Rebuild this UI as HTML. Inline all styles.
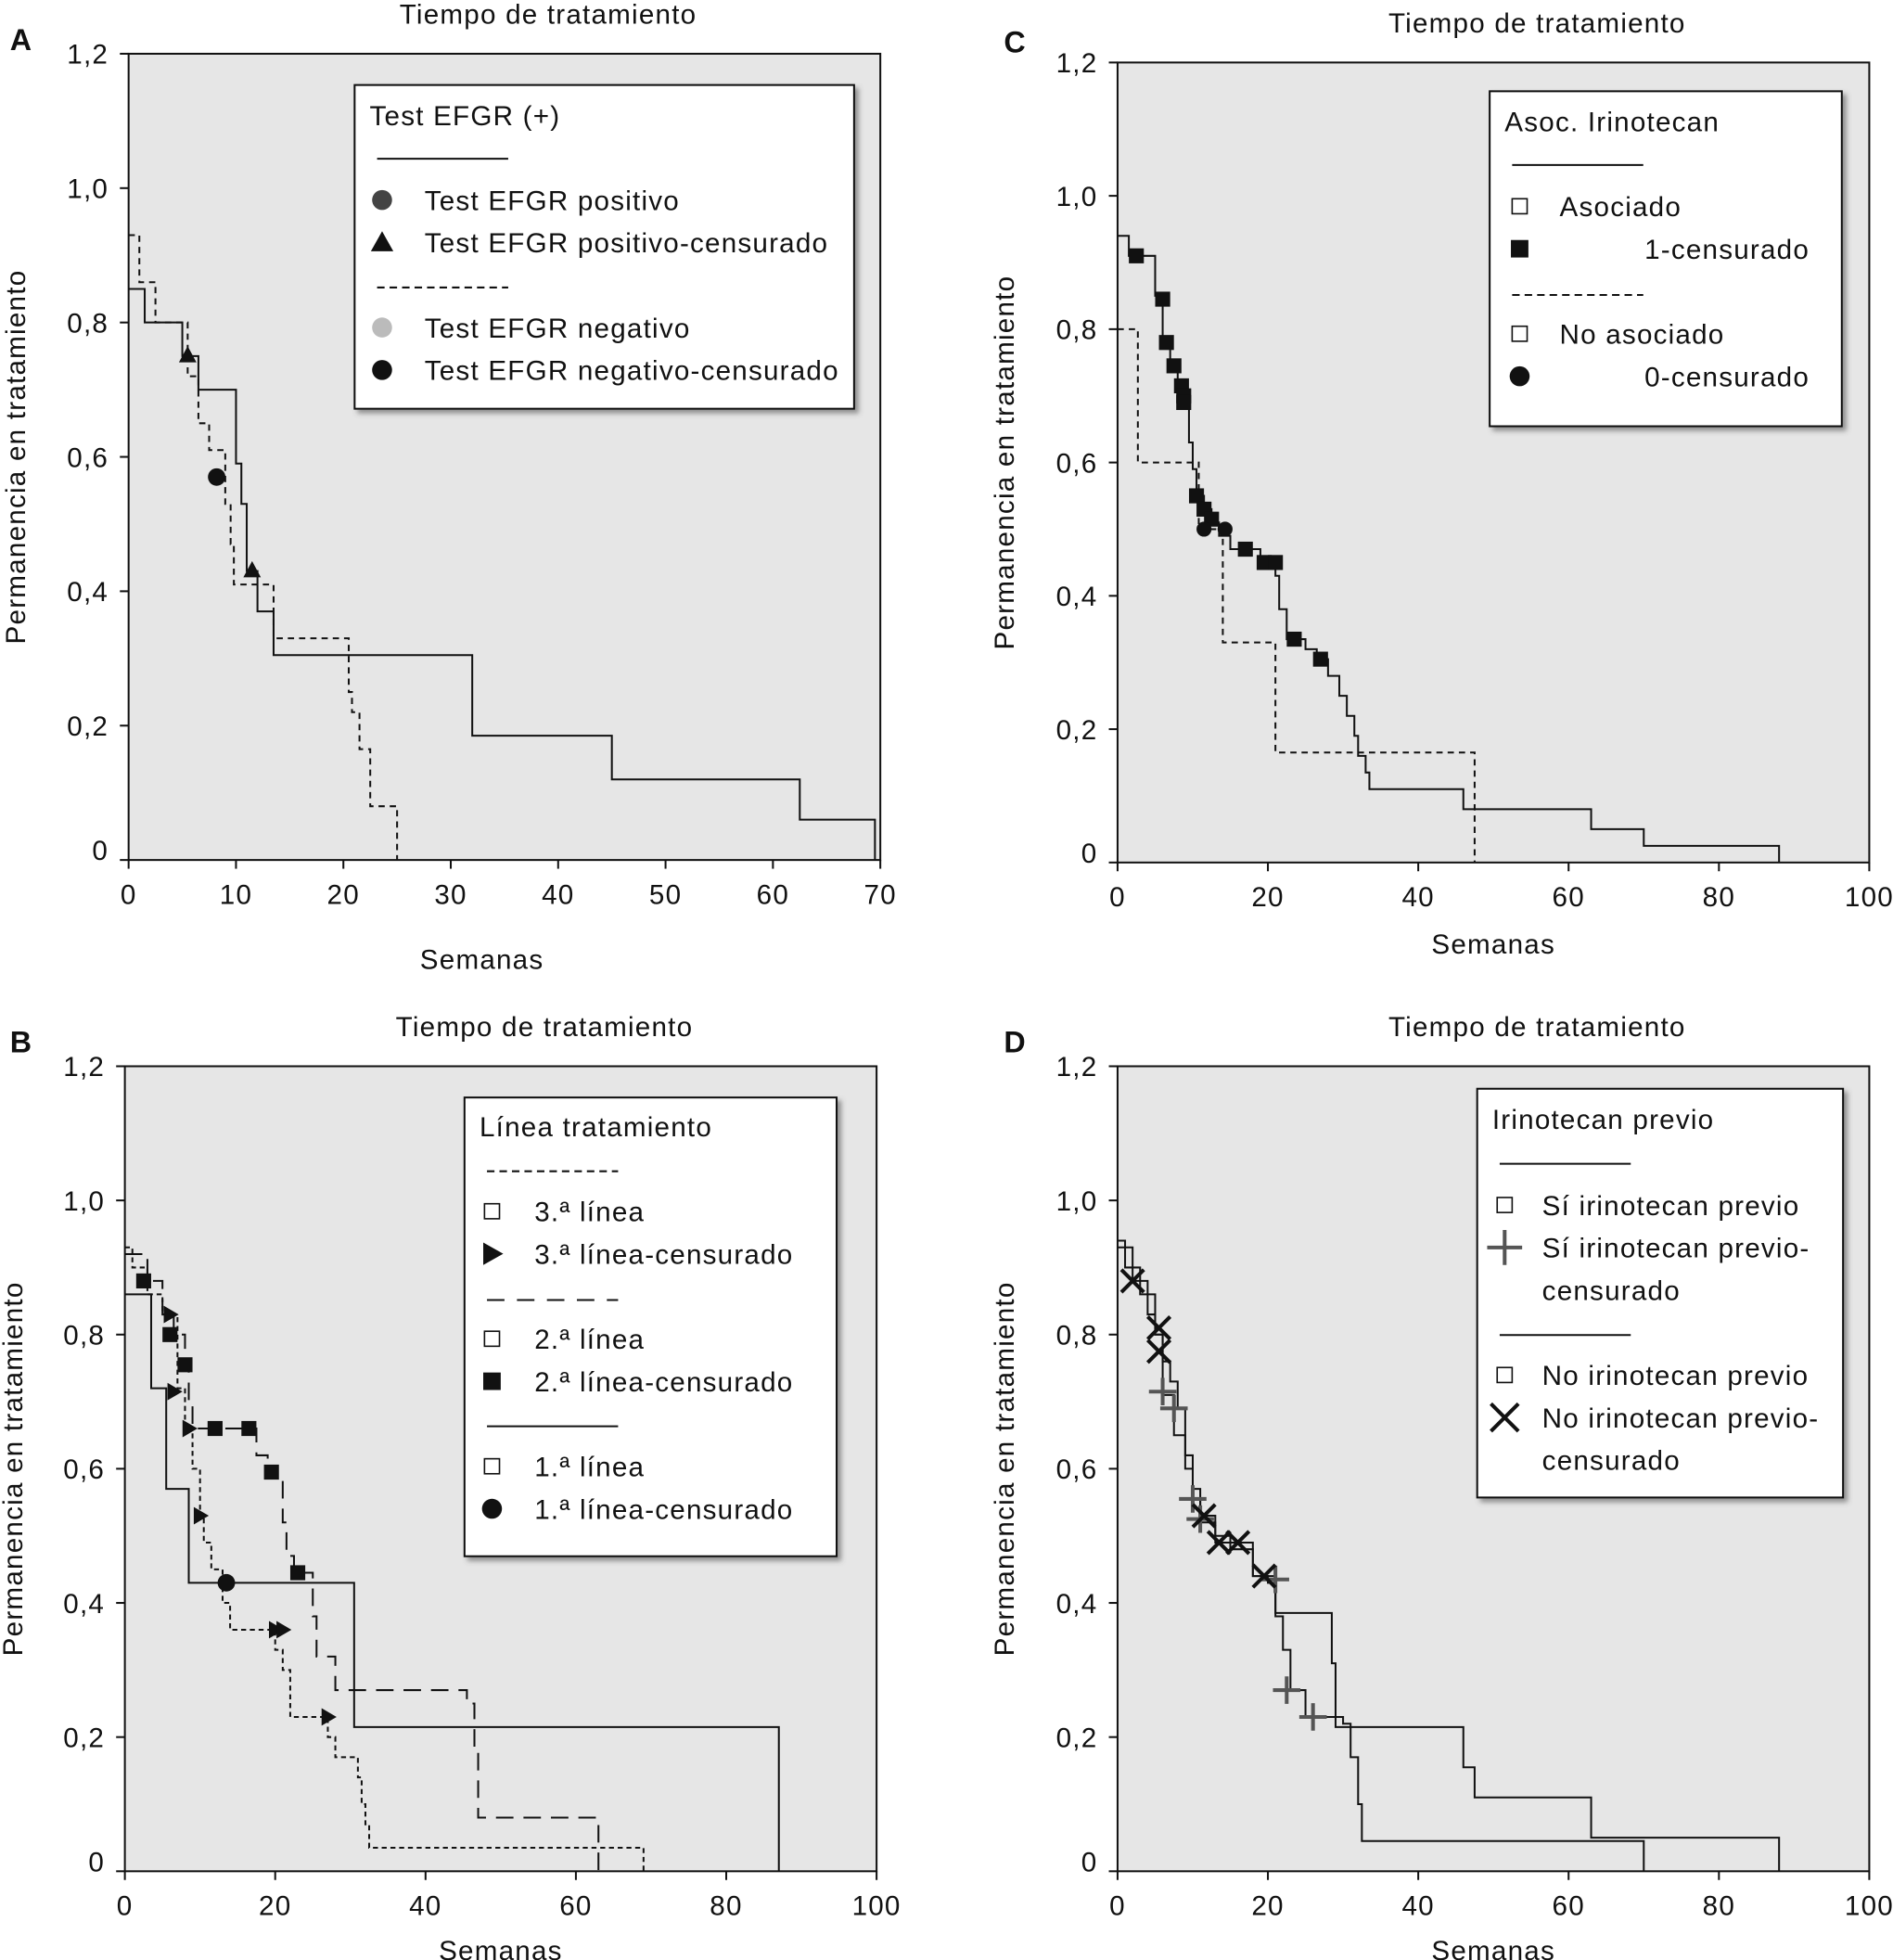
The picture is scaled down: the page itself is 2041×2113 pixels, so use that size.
<!DOCTYPE html>
<html><head><meta charset="utf-8"><style>
html,body{margin:0;padding:0;background:#fff;}
svg{display:block;font-family:"Liberation Sans","DejaVu Sans",sans-serif;letter-spacing:0.9px;}
</style></head><body>
<svg id="chart" width="2041" height="2113" viewBox="0 0 1516 1568" preserveAspectRatio="none" xmlns="http://www.w3.org/2000/svg">
<defs><filter id="sh" x="-5%" y="-5%" width="115%" height="115%"><feDropShadow dx="3" dy="3" stdDeviation="2" flood-color="#555" flood-opacity="0.6"/></filter></defs>
</svg>
<script>
// ---------- DATA ----------
const aXTicks=[0,10,20,30,40,50,60,70];
const bXTicks=[0,20,40,60,80,100];
const yTicks=[0,0.2,0.4,0.6,0.8,1.0,1.2];
const yTickLabels=["0","0,2","0,4","0,6","0,8","1,0","1,2"];
// Panel A
const aPosSteps=[[0,0.85],[1.5,0.80],[5,0.75],[6.5,0.70],[10,0.59],[10.5,0.53],[11,0.43],[12,0.37],[13.5,0.305],[32,0.185],[45,0.12],[62.5,0.06],[69.5,0]];
const aNegSteps=[[0,0.93],[1,0.86],[2.5,0.80],[5.5,0.72],[6.5,0.65],[7.5,0.61],[9,0.53],[9.5,0.47],[9.8,0.41],[13.5,0.33],[20.5,0.25],[20.8,0.22],[21.5,0.165],[22.5,0.08],[25,0]];
const aTriangles=[[5.5,0.75],[11.5,0.43]];
const aCircles=[[8.2,0.57]];
// Panel B
const b1Steps=[[0,0.86],[3.5,0.72],[5.5,0.57],[8.5,0.43],[30.5,0.215],[87,0]];
const b2Steps=[[0,0.92],[3,0.88],[5,0.83],[6.5,0.80],[8,0.75],[8.5,0.70],[9,0.66],[17.5,0.62],[19,0.59],[21,0.52],[21.5,0.47],[22.5,0.445],[25,0.38],[25.5,0.32],[28,0.27],[45.5,0.25],[46.5,0.18],[47,0.08],[63,0]];
const b3Steps=[[0,0.93],[1,0.90],[3,0.86],[5,0.83],[7,0.72],[8,0.66],[9,0.60],[10,0.53],[10.5,0.49],[11.5,0.45],[13,0.40],[14,0.36],[20,0.33],[21,0.30],[22,0.23],[27,0.20],[28,0.17],[31,0.14],[31.5,0.10],[32,0.07],[32.5,0.035],[69,0]];
const bTriangles=[[6,0.83],[6.5,0.715],[8.5,0.66],[10,0.53],[20,0.36],[21,0.36],[27,0.23]];
const bSquares=[[2.5,0.88],[6,0.80],[8,0.755],[12,0.66],[16.5,0.66],[19.5,0.595],[23,0.445]];
const bCircles=[[13.5,0.43]];
// Panel C
const cAsocSteps=[[0,0.94],[1.5,0.91],[5,0.85],[6,0.78],[7,0.745],[8,0.71],[8.5,0.69],[9.5,0.63],[10,0.59],[10.5,0.55],[11.5,0.53],[12.5,0.51],[13.5,0.49],[15,0.47],[19,0.45],[21,0.43],[21.5,0.38],[22.5,0.335],[25,0.32],[26.5,0.305],[28,0.28],[29.5,0.25],[30.5,0.22],[31.5,0.19],[32,0.16],[33,0.135],[33.5,0.11],[46,0.08],[63,0.05],[70,0.025],[88,0]];
const cNoSteps=[[0,0.80],[2.7,0.60],[10.8,0.50],[14,0.33],[21,0.165],[47.5,0]];
const cSquares=[[2.5,0.91],[6,0.845],[6.5,0.78],[7.5,0.745],[8.5,0.715],[8.8,0.70],[8.8,0.69],[10.5,0.55],[11.5,0.53],[12.5,0.515],[17,0.47],[19.5,0.45],[21,0.45],[23.5,0.335],[27,0.305]];
const cCircles=[[11.5,0.50],[14.3,0.50]];
// Panel D
const dSiSteps=[[0,0.94],[1,0.90],[3,0.86],[5,0.80],[6,0.71],[7.5,0.65],[9,0.60],[10,0.555],[11,0.52],[13,0.50],[15,0.48],[18,0.44],[20,0.43],[21,0.38],[22,0.33],[23,0.27],[25,0.23],[30,0.22],[31,0.17],[32,0.10],[32.5,0.045],[70,0]];
const dNoSteps=[[0,0.93],[2,0.88],[4,0.83],[5,0.80],[6,0.76],[7,0.73],[8,0.69],[9,0.62],[10,0.57],[11,0.53],[13,0.49],[18,0.44],[21,0.385],[28.5,0.31],[29,0.215],[46,0.155],[47.5,0.11],[63,0.05],[88,0]];
const dPlus=[[6,0.715],[7.5,0.69],[10,0.555],[11,0.525],[21,0.435],[22.5,0.27],[26,0.23]];
const dCross=[[2,0.88],[5.5,0.81],[5.5,0.775],[11.5,0.53],[13.5,0.49],[16,0.49],[19.5,0.44]];

// ---------- DRAW ----------
const svg=document.getElementById('chart');
const NS='http://www.w3.org/2000/svg';
function mk(tag,at,parent){const e=document.createElementNS(NS,tag);for(const k in at)e.setAttribute(k,at[k]);(parent||svg).appendChild(e);return e;}
function txt(x,y,s,size,anchor,parent,name){const t=mk('text',{x:x,y:y,'font-size':size,'text-anchor':anchor||'start',fill:'#111'},parent);t.textContent=s;

return t;}

function panel(P){
 const g=mk('g',{});
 
 
 const sx=v=>P.x0+(v-0)/P.xmax*(P.x1-P.x0);
 const sy=v=>P.y0-v/1.2*(P.y0-P.y1);
 const bg=mk('rect',{x:P.x0,y:P.y1,width:P.x1-P.x0,height:P.y0-P.y1,fill:'#e6e6e6',stroke:'#111','stroke-width':1.5},g);
 
 
 yTicks.forEach((v,i)=>{mk('line',{x1:P.x0-7,x2:P.x0,y1:sy(v),y2:sy(v),stroke:'#111','stroke-width':1.5},g);
  txt(P.x0-16,sy(v)+(i==0?0:8),yTickLabels[i],22,'end',g,'y-tick-label');});
 P.xt.forEach(v=>{mk('line',{x1:sx(v),x2:sx(v),y1:P.y0,y2:P.y0+7,stroke:'#111','stroke-width':1.5},g);
  txt(sx(v),P.y0+35,String(v),22,'middle',g,'x-tick-label');});
 txt((P.x0+P.x1)/2+35,P.y1-24,'Tiempo de tratamiento',22,'middle',g,'panel-title');
 txt(P.x0+(P.id=='a'?(P.x1-P.x0)*0.47:(P.x1-P.x0)/2),P.xlabY,'Semanas',22,'middle',g,'x-axis-title');
 const yl=txt(0,0,'Permanencia en tratamiento',22,'middle',g,'y-axis-title');
 yl.setAttribute('transform','translate('+P.ylabX+','+((P.y0+P.y1)/2)+') rotate(-90)');
 txt(P.letterX,P.letterY,P.id.toUpperCase(),24,'start',g,'panel-letter').setAttribute('font-weight','bold');
 P.series.forEach(s=>{
  let d='M'+sx(s.steps[0][0])+','+sy(s.steps[0][1]);
  for(let i=1;i<s.steps.length;i++){d+=' H'+sx(s.steps[i][0])+' V'+sy(s.steps[i][1]);}
  const p=mk('path',{d:d,fill:'none',stroke:'#111','stroke-width':1.5,'stroke-dasharray':s.dash||'none'},g);
  
  
 });
 P.marks.forEach(m=>{m.pts.forEach(pt=>{const x=sx(pt[0]),y=sy(pt[1]);let e;
  if(m.type=='tri')e=mk('path',{d:`M${x},${y-8} L${x+7},${y+5} L${x-7},${y+5}Z`,fill:'#111'},g);
  else if(m.type=='rtri')e=mk('path',{d:`M${x+7},${y} L${x-5},${y-7} L${x-5},${y+7}Z`,fill:'#111'},g);
  else if(m.type=='sq')e=mk('rect',{x:x-6,y:y-6,width:12,height:12,fill:'#111'},g);
  else if(m.type=='circ')e=mk('circle',{cx:x,cy:y,r:m.r||7,fill:'#111'},g);
  else if(m.type=='plus')e=mk('path',{d:`M${x-11},${y} H${x+11} M${x},${y-11} V${y+11}`,stroke:'#555','stroke-width':3},g);
  else if(m.type=='x')e=mk('path',{d:`M${x-9},${y-9} L${x+9},${y+9} M${x+9},${y-9} L${x-9},${y+9}`,stroke:'#111','stroke-width':3},g);
  
  });});
 // legend
 const L=P.legend;
 const lg=mk('g',{},g);
 
 
 mk('rect',{x:L.x,y:L.y,width:L.w,height:L.h,fill:'#fff',stroke:'#111','stroke-width':1.5,filter:'url(#sh)'},lg);
 L.items.forEach(it=>{
  const y=it.y;
  if(it.kind=='title')txt(L.x+12,y,it.t,22,'start',lg,'legend-title');
  else if(it.kind=='line')mk('line',{x1:L.x+18,x2:L.x+18+it.len,y1:y,y2:y,stroke:'#111','stroke-width':1.5,'stroke-dasharray':it.dash||'none'},lg);
  else{const ix=L.x+it.ix,iy=y-8;
   if(it.icon=='circ')mk('circle',{cx:ix,cy:iy,r:8,fill:it.col||'#111'},lg);
   else if(it.icon=='tri')mk('path',{d:`M${ix},${iy-9} L${ix+9},${iy+7} L${ix-9},${iy+7}Z`,fill:'#111'},lg);
   else if(it.icon=='rtri')mk('path',{d:`M${ix+9},${iy} L${ix-7},${iy-9} L${ix-7},${iy+9}Z`,fill:'#111'},lg);
   else if(it.icon=='osq')mk('rect',{x:ix-6,y:iy-6,width:12,height:12,fill:'#fff',stroke:'#111','stroke-width':1.2},lg);
   else if(it.icon=='sq')mk('rect',{x:ix-7,y:iy-7,width:14,height:14,fill:'#111'},lg);
   else if(it.icon=='plus')mk('path',{d:`M${ix-14},${iy} H${ix+14} M${ix},${iy-14} V${iy+14}`,stroke:'#555','stroke-width':3},lg);
   else if(it.icon=='x')mk('path',{d:`M${ix-11},${iy-11} L${ix+11},${iy+11} M${ix+11},${iy-11} L${ix-11},${iy+11}`,stroke:'#111','stroke-width':3},lg);
   txt(L.x+it.tx,y,it.t,22,'start',lg,'legend-entry');
  }
 });
}

panel({id:'a',x0:103,x1:705,y0:688,y1:43,xmax:70,xt:aXTicks,xlabY:775,ylabX:20,letterX:8,letterY:40,
 series:[{steps:aPosSteps,name:'line-positivo'},{steps:aNegSteps,dash:'5,4',name:'line-negativo'}],
 marks:[{type:'tri',pts:aTriangles,name:'censor-triangle'},{type:'circ',pts:aCircles,name:'censor-circle'}],
 legend:{x:284,y:68,w:400,h:259,items:[
  {kind:'title',y:100,t:'Test EFGR (+)'},{kind:'line',y:127,len:105},
  {kind:'e',y:168,ix:22,icon:'circ',col:'#444',tx:56,t:'Test EFGR positivo'},
  {kind:'e',y:202,ix:22,icon:'tri',tx:56,t:'Test EFGR positivo-censurado'},
  {kind:'line',y:230,len:105,dash:'6,4'},
  {kind:'e',y:270,ix:22,icon:'circ',col:'#bbb',tx:56,t:'Test EFGR negativo'},
  {kind:'e',y:304,ix:22,icon:'circ',tx:56,t:'Test EFGR negativo-censurado'}]}});

panel({id:'c',x0:895,x1:1497,y0:690,y1:50,xmax:100,xt:bXTicks,xlabY:763,ylabX:812,letterX:804,letterY:42,
 series:[{steps:cAsocSteps,name:'line-asociado'},{steps:cNoSteps,dash:'5,4',name:'line-no-asociado'}],
 marks:[{type:'sq',pts:cSquares,name:'censor-square'},{type:'circ',pts:cCircles,r:6,name:'censor-circle'}],
 legend:{x:1193,y:73,w:282,h:268,items:[
  {kind:'title',y:105,t:'Asoc. Irinotecan'},{kind:'line',y:132,len:105},
  {kind:'e',y:173,ix:24,icon:'osq',tx:56,t:'Asociado'},
  {kind:'e',y:207,ix:24,icon:'sq',tx:124,t:'1-censurado'},
  {kind:'line',y:236,len:105,dash:'6,4'},
  {kind:'e',y:275,ix:24,icon:'osq',tx:56,t:'No asociado'},
  {kind:'e',y:309,ix:24,icon:'circ',tx:124,t:'0-censurado'}]}});

panel({id:'b',x0:100,x1:702,y0:1497,y1:853,xmax:100,xt:bXTicks,xlabY:1568,ylabX:18,letterX:8,letterY:842,
 series:[{steps:b1Steps,name:'line-1a-linea'},{steps:b2Steps,dash:'14,8',name:'line-2a-linea'},{steps:b3Steps,dash:'4,3',name:'line-3a-linea'}],
 marks:[{type:'rtri',pts:bTriangles,name:'censor-triangle'},{type:'sq',pts:bSquares,name:'censor-square'},{type:'circ',pts:bCircles,name:'censor-circle'}],
 legend:{x:372,y:878,w:298,h:367,items:[
  {kind:'title',y:909,t:'Línea tratamiento'},{kind:'line',y:937,len:105,dash:'6,4'},
  {kind:'e',y:977,ix:22,icon:'osq',tx:56,t:'3.ª línea'},
  {kind:'e',y:1011,ix:22,icon:'rtri',tx:56,t:'3.ª línea-censurado'},
  {kind:'line',y:1040,len:105,dash:'14,10'},
  {kind:'e',y:1079,ix:22,icon:'osq',tx:56,t:'2.ª línea'},
  {kind:'e',y:1113,ix:22,icon:'sq',tx:56,t:'2.ª línea-censurado'},
  {kind:'line',y:1141,len:105},
  {kind:'e',y:1181,ix:22,icon:'osq',tx:56,t:'1.ª línea'},
  {kind:'e',y:1215,ix:22,icon:'circ',tx:56,t:'1.ª línea-censurado'}]}});

panel({id:'d',x0:895,x1:1497,y0:1497,y1:853,xmax:100,xt:bXTicks,xlabY:1568,ylabX:812,letterX:804,letterY:842,
 series:[{steps:dSiSteps,name:'line-si-irinotecan'},{steps:dNoSteps,name:'line-no-irinotecan'}],
 marks:[{type:'plus',pts:dPlus,name:'censor-plus'},{type:'x',pts:dCross,name:'censor-cross'}],
 legend:{x:1183,y:871,w:293,h:327,items:[
  {kind:'title',y:903,t:'Irinotecan previo'},{kind:'line',y:931,len:105},
  {kind:'e',y:972,ix:22,icon:'osq',tx:52,t:'Sí irinotecan previo'},
  {kind:'e',y:1006,ix:22,icon:'plus',tx:52,t:'Sí irinotecan previo-'},
  {kind:'e',y:1040,ix:-999,icon:'none',tx:52,t:'censurado'},
  {kind:'line',y:1068,len:105},
  {kind:'e',y:1108,ix:22,icon:'osq',tx:52,t:'No irinotecan previo'},
  {kind:'e',y:1142,ix:22,icon:'x',tx:52,t:'No irinotecan previo-'},
  {kind:'e',y:1176,ix:-999,icon:'none',tx:52,t:'censurado'}]}});
</script>
</body></html>
